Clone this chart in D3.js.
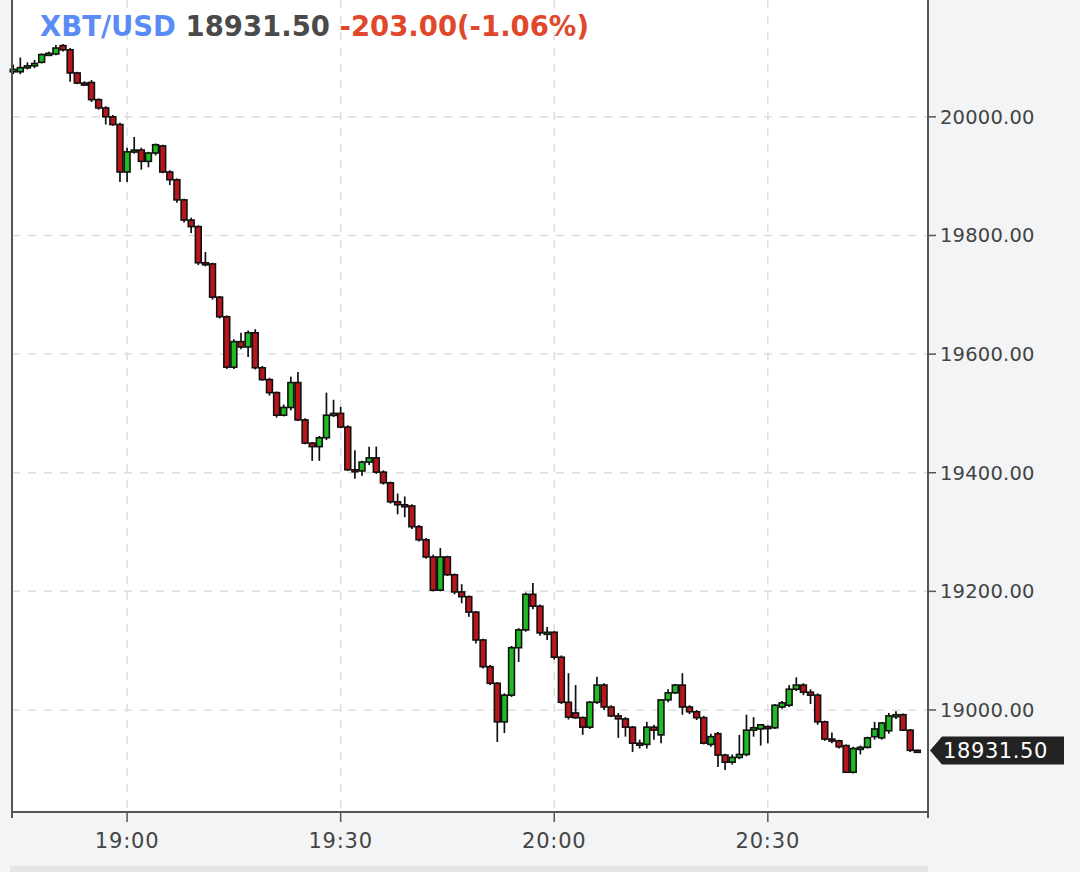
<!DOCTYPE html>
<html>
<head>
<meta charset="utf-8">
<script src="https://cdn.jsdelivr.net/npm/d3@7"></script>
<style>
  body { margin: 0; background: #f3f4f6; }
</style>
</head>
<body>
<script>
// 1-minute candles, 18:44 .. 20:51
let start_time = new Date(2022, 10, 9, 18, 44);
let open = [
  20076, 20076, 20083, 20086, 20092, 20105, 20106, 20120, 20113, 20074, 20057, 20058, 20029, 20015, 20000, 19987,
  19907, 19941, 19944, 19925, 19939, 19951, 19907, 19894, 19860, 19826,
  19815, 19754, 19752, 19696, 19663, 19578, 19621, 19612, 19636, 19577,
  19557, 19535, 19497, 19510, 19552, 19489, 19450, 19444, 19459, 19497,
  19500, 19477, 19405, 19403, 19418, 19425, 19401, 19383, 19351, 19346,
  19344, 19309, 19287, 19258, 19202, 19258, 19228, 19199, 19191, 19165,
  19118, 19073, 19045, 18980, 19025, 19105, 19135, 19195, 19175, 19130,
  19131, 19089, 19013, 18995, 18987, 18971, 19013, 19042, 19005, 18990,
  18985, 18971, 18944, 18942, 18971, 18958, 19017, 19029, 19042, 19005,
  18997, 18987, 18942, 18960, 18924, 18912, 18920, 18925, 18966, 18968,
  18972, 18970, 19005, 19008, 19035, 19042, 19030, 19025, 18980, 18951,
  18948, 18940, 18895, 18935, 18937, 18955, 18953, 18965, 18990, 18992,
  18966, 18932];
let high = [
  20088, 20100, 20092, 20096, 20107, 20110, 20121, 20123, 20116, 20076, 20060, 20062, 20031, 20018, 20003, 19990,
  19948, 19966, 19948, 19941, 19955, 19953, 19910, 19896, 19862, 19830,
  19817, 19772, 19754, 19698, 19665, 19625, 19636, 19640, 19642, 19580,
  19560, 19537, 19515, 19562, 19570, 19492, 19452, 19462, 19535, 19523,
  19511, 19480, 19438, 19420, 19444, 19444, 19404, 19385, 19365, 19360,
  19347, 19312, 19290, 19262, 19273, 19260, 19230, 19212, 19193, 19167,
  19120, 19076, 19047, 19028, 19108, 19138, 19198, 19214, 19178, 19140,
  19133, 19092, 19062, 19042, 18989, 19015, 19056, 19045, 19008, 18995,
  18988, 18973, 18950, 18980, 18975, 19018, 19035, 19044, 19062, 19008,
  19000, 18990, 18960, 18963, 18926, 18925, 18958, 18992, 18988, 18976,
  18974, 19010, 19015, 19042, 19055, 19045, 19035, 19028, 18982, 18962,
  18950, 18942, 18938, 18940, 18955, 18980, 18980, 18995, 18998, 18994,
  18968, 18933];
let low = [
  20072, 20072, 20080, 20082, 20090, 20103, 20104, 20110, 20059, 20055, 20052, 20025, 20012, 19987, 19985, 19890,
  19890, 19938, 19911, 19915, 19935, 19905, 19885, 19855, 19822, 19804,
  19750, 19748, 19692, 19660, 19575, 19575, 19608, 19595, 19574, 19555,
  19530, 19493, 19495, 19505, 19487, 19448, 19420, 19420, 19455, 19494,
  19475, 19403, 19390, 19395, 19413, 19398, 19380, 19348, 19330, 19325,
  19305, 19284, 19255, 19200, 19200, 19226, 19195, 19180, 19157, 19112,
  19070, 19042, 18946, 18961, 19022, 19081, 19132, 19170, 19125, 19118,
  19085, 19010, 18984, 18985, 18958, 18968, 19010, 19000, 18988, 18953,
  18955, 18929, 18935, 18935, 18950, 18944, 19013, 19027, 18992, 18993,
  18983, 18942, 18938, 18904, 18899, 18908, 18917, 18922, 18955, 18940,
  18944, 18968, 19002, 19005, 19032, 19025, 19010, 18975, 18948, 18944,
  18935, 18895, 18893, 18925, 18935, 18950, 18950, 18960, 18985, 18965,
  18929, 18930];
let close = [
  20080, 20083, 20086, 20090, 20105, 20107, 20116, 20113, 20074, 20057, 20055, 20029, 20015, 20000, 19987, 19907,
  19941, 19944, 19925, 19939, 19953, 19907, 19894, 19860, 19826, 19815,
  19754, 19752, 19696, 19663, 19578, 19621, 19612, 19636, 19577, 19557,
  19535, 19497, 19510, 19552, 19489, 19450, 19444, 19459, 19497, 19500,
  19477, 19405, 19403, 19418, 19425, 19401, 19383, 19351, 19346, 19344,
  19309, 19287, 19258, 19202, 19258, 19228, 19199, 19191, 19165, 19118,
  19073, 19045, 18980, 19025, 19105, 19135, 19195, 19175, 19130, 19131,
  19089, 19013, 18988, 18987, 18971, 19013, 19042, 19005, 18990, 18985,
  18971, 18944, 18942, 18971, 18966, 19017, 19029, 19042, 19005, 18997,
  18987, 18944, 18955, 18924, 18912, 18920, 18925, 18966, 18970, 18975,
  18970, 19008, 19012, 19035, 19042, 19030, 19025, 18980, 18951, 18948,
  18938, 18895, 18935, 18937, 18953, 18968, 18978, 18990, 18992, 18966,
  18932, 18931.5];

let y_ticks = [19000, 19200, 19400, 19600, 19800, 20000];
let x_ticks = ["19:00", "19:30", "20:00", "20:30"];
let symbol = "XBT/USD";
let last_price = "18931.50";
let change = "-203.00(-1.06%)";

let width = 1080, height = 872;
let plot = { left: 12, right: 928, top: 0, bottom: 812 };

let at = (hm) => {
  let [h, m] = hm.split(":").map(Number);
  return new Date(2022, 10, 9, h, m);
};

let candles = open.map((o, i) => ({
  t: d3.timeMinute.offset(start_time, i),
  o: o, h: high[i], l: low[i], c: close[i]
}));

let x = d3.scaleTime()
  .domain([new Date(2022, 10, 9, 18, 43, 50), new Date(2022, 10, 9, 20, 52, 30)])
  .range([plot.left, plot.right]);
let y = d3.scaleLinear()
  .domain([18828, 20197])
  .range([plot.bottom, plot.top]);

let svg = d3.select("body")
  .append("svg")
    .attr("width", width)
    .attr("height", height)
    .style("display", "block");

svg.append("rect").attr("width", width).attr("height", height).attr("fill", "#f3f4f6");
svg.append("rect")
  .attr("x", plot.left).attr("y", plot.top)
  .attr("width", plot.right - plot.left).attr("height", plot.bottom - plot.top)
  .attr("fill", "#ffffff");

// grid
let grid = svg.append("g").attr("stroke", "#dedede").attr("stroke-width", 1.5).attr("stroke-dasharray", "8,8");
grid.selectAll(".gx").data(x_ticks).join("line")
  .attr("x1", d => x(at(d))).attr("x2", d => x(at(d)))
  .attr("y1", plot.top).attr("y2", plot.bottom);
grid.selectAll(".gy").data(y_ticks).join("line")
  .attr("x1", plot.left).attr("x2", plot.right)
  .attr("y1", d => y(d)).attr("y2", d => y(d));

// candles
let band = x(d3.timeMinute.offset(start_time, 1)) - x(start_time);
let bw = band * 0.82;
let cg = svg.append("g");
cg.selectAll("line.wick").data(candles).join("line")
  .attr("class", "wick")
  .attr("x1", d => x(d.t)).attr("x2", d => x(d.t))
  .attr("y1", d => y(d.h)).attr("y2", d => y(d.l))
  .attr("stroke", "#111").attr("stroke-width", 1.7);
cg.selectAll("rect.body").data(candles).join("rect")
  .attr("class", "body")
  .attr("x", d => x(d.t) - bw / 2)
  .attr("width", bw)
  .attr("y", d => y(Math.max(d.o, d.c)))
  .attr("height", d => Math.max(2, Math.abs(y(d.o) - y(d.c))))
  .attr("fill", d => d.c >= d.o ? "#20bb24" : "#b9161b")
  .attr("stroke", "#111").attr("stroke-width", 1.6);

// frame
let frame = svg.append("g").attr("stroke", "#555").attr("stroke-width", 2).attr("fill", "none");
frame.append("line").attr("x1", plot.left).attr("x2", plot.left).attr("y1", plot.top).attr("y2", plot.bottom + 6);
frame.append("line").attr("x1", plot.right).attr("x2", plot.right).attr("y1", plot.top).attr("y2", plot.bottom + 6);
frame.append("line").attr("x1", plot.left).attr("x2", plot.right).attr("y1", plot.bottom).attr("y2", plot.bottom);

// y axis labels
let ya = svg.append("g");
ya.selectAll("line").data(y_ticks).join("line")
  .attr("x1", plot.right).attr("x2", plot.right + 8)
  .attr("y1", d => y(d)).attr("y2", d => y(d))
  .attr("stroke", "#555").attr("stroke-width", 1.5);
ya.selectAll("text").data(y_ticks).join("text")
  .attr("x", plot.right + 12).attr("y", d => y(d)).attr("dy", "0.36em")
  .attr("font-family", "DejaVu Sans").attr("font-size", 19.5).attr("letter-spacing", 0.2)
  .attr("fill", "#444")
  .text(d => d3.format(".2f")(d));

// x axis labels
let xa = svg.append("g");
xa.selectAll("line").data(x_ticks).join("line")
  .attr("x1", d => x(at(d))).attr("x2", d => x(at(d)))
  .attr("y1", plot.bottom).attr("y2", plot.bottom + 10)
  .attr("stroke", "#555").attr("stroke-width", 1.5);
xa.selectAll("text").data(x_ticks).join("text")
  .attr("x", d => x(at(d))).attr("y", 848)
  .attr("text-anchor", "middle")
  .attr("font-family", "DejaVu Sans").attr("font-size", 21).attr("letter-spacing", 0.8)
  .attr("fill", "#444")
  .text(d => d);

// last price marker
let ly = y(close[close.length - 1]);
svg.append("path")
  .attr("d", `M${plot.right + 2},${ly} L${plot.right + 14},${ly - 14} L1064,${ly - 14} L1064,${ly + 14} L${plot.right + 14},${ly + 14} Z`)
  .attr("fill", "#222");
svg.append("text")
  .attr("x", plot.right + 15).attr("y", ly).attr("dy", "0.36em")
  .attr("font-family", "DejaVu Sans").attr("font-size", 21).attr("letter-spacing", 0.6)
  .attr("fill", "#ffffff")
  .text(last_price);

// header
let head = svg.append("text")
  .attr("x", 40).attr("y", 36)
  .attr("font-family", "DejaVu Sans").attr("font-weight", "bold").attr("font-size", 27.5);
head.append("tspan").attr("fill", "#5b8cf5").text(symbol + " ");
head.append("tspan").attr("fill", "#4a4a4a").text(last_price + " ");
head.append("tspan").attr("fill", "#e0482c").text(change);

// scrollbar strip
svg.append("rect").attr("x", 10).attr("y", 866).attr("width", plot.right - 10).attr("height", 6).attr("fill", "#e4e5e7");
</script>
</body>
</html>
